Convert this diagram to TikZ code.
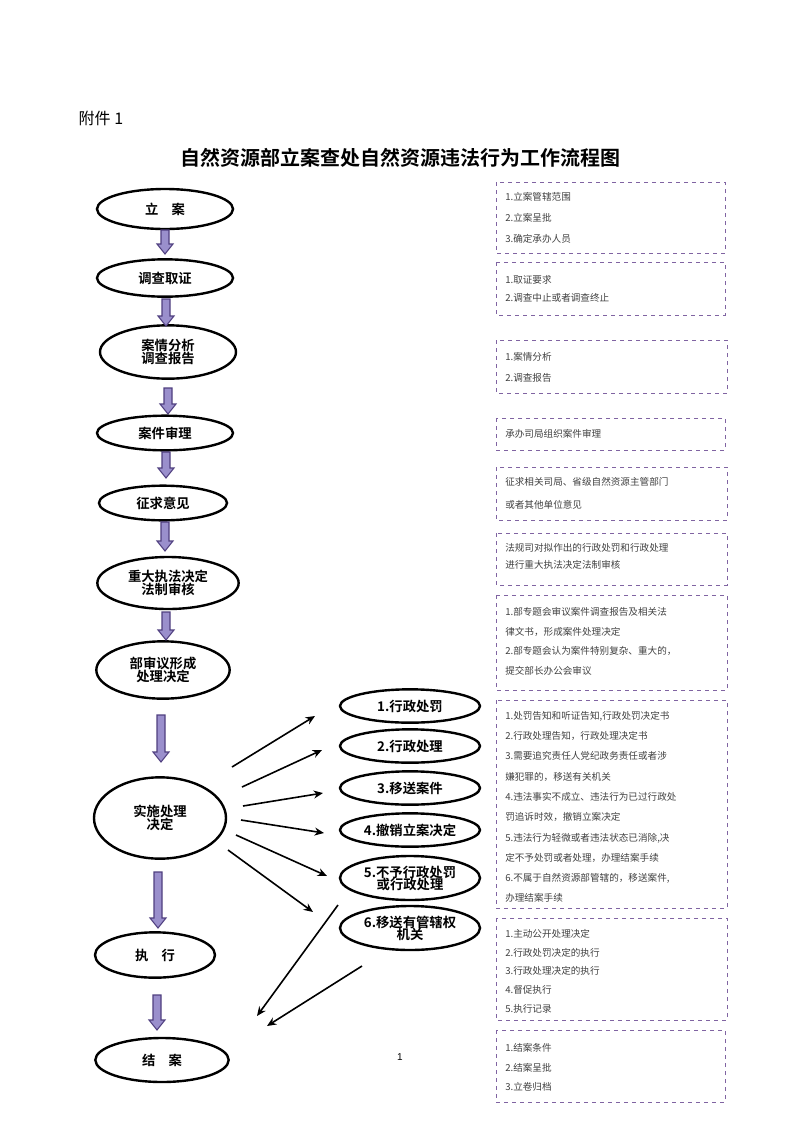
\documentclass[tikz,border=0pt]{standalone}
\usepackage{fontspec}
\setmainfont{Liberation Sans}
\newfontfamily\cjk{Noto Sans CJK SC}
\newfontfamily\cjkb{Noto Sans CJK SC Bold}
\usetikzlibrary{calc,arrows.meta}
\definecolor{boxc}{HTML}{8064A2}
\definecolor{arrf}{HTML}{9A8FCC}
\definecolor{arrd}{HTML}{4F3F7F}
\tikzset{
 el/.style={draw,line width=1.8pt,ellipse,inner sep=0pt,font=\cjkb\fontsize{10}{12}\selectfont,align=center},
 box/.style={draw=boxc,dashed,line width=0.7pt},
 bt/.style={anchor=north west,align=left,font=\cjk\fontsize{7.2}{14}\selectfont,text=black!75,inner sep=0pt},
 ar/.style={-{Stealth[length=7pt,width=6pt]},line width=1.2pt}
}
\usetikzlibrary{shapes.geometric}
\newcommand\barrow[3]{%
 \fill[arrf,draw=arrd,line width=0.8pt] (#1-4,#2)--(#1+4,#2)--(#1+4,#3-10)--(#1+8,#3-10)--(#1,#3)--(#1-8,#3-10)--(#1-4,#3-10)--cycle;}
\begin{document}
\begin{tikzpicture}[x=0.75pt,y=-0.75pt]
\useasboundingbox (0,0) rectangle (800,1132);
\node[anchor=west,font=\cjk\fontsize{12}{14}\selectfont] (fj) at (74,118) {附件 1};
\node[font=\cjkb\fontsize{15}{18}\selectfont] (title) at (400,158) {自然资源部立案查处自然资源违法行为工作流程图};
\node[font=\fontsize{7.5}{9}\selectfont] (pg) at (400,1057) {1};
% left ellipses
\node[el,minimum width=136\pgflinewidth/1.8*0.75/0.75,minimum width=102pt,minimum height=30pt] (a1) at (165,209) {立\quad 案};
\node[el,minimum width=102pt,minimum height=28pt] (a2) at (165,278) {调查取证};
\node[el,minimum width=102pt,minimum height=40pt] (a3) at (168,352) {案情分析\\[-2pt]调查报告};
\node[el,minimum width=102pt,minimum height=26pt] (a4) at (165,433) {案件审理};
\node[el,minimum width=96pt,minimum height=26pt] (a5) at (163,503) {征求意见};
\node[el,minimum width=106pt,minimum height=39pt] (a6) at (168,583) {重大执法决定\\[-2pt]法制审核};
\node[el,minimum width=100pt,minimum height=43pt] (a7) at (163,670) {部审议形成\\[-2pt]处理决定};
\node[el,minimum width=99pt,minimum height=61pt] (a8) at (160,818) {实施处理\\[-2pt]决定};
\node[el,minimum width=90pt,minimum height=34pt] (a9) at (155,955) {执\quad 行};
\node[el,minimum width=100pt,minimum height=33pt] (a10) at (162,1060) {结\quad 案};
% right ellipses
\node[el,minimum width=105pt,minimum height=25pt] (b1) at (410,706) {1.行政处罚};
\node[el,minimum width=105pt,minimum height=25pt] (b2) at (410,746) {2.行政处理};
\node[el,minimum width=105pt,minimum height=25pt] (b3) at (410,788) {3.移送案件};
\node[el,minimum width=105pt,minimum height=25pt] (b4) at (410,830) {4.撤销立案决定};
\node[el,minimum width=105pt,minimum height=33pt] (b5) at (410,878) {5.不予行政处罚\\[-3pt]或行政处理};
\node[el,minimum width=105pt,minimum height=33pt] (b6) at (410,928) {6.移送有管辖权\\[-3pt]机关};
% block arrows
\barrow{165}{230}{254}
\barrow{166}{299}{326}
\barrow{168}{388}{414}
\barrow{166}{452}{478}
\barrow{165}{522}{551}
\barrow{166}{612}{640}
\barrow{161}{715}{762}
\barrow{158}{872}{928}
\barrow{157}{995}{1030}
% black arrows
\coordinate (s1) at (232,767); \coordinate (s2) at (242,787); \coordinate (s3) at (243,806);
\coordinate (s4) at (241,820); \coordinate (s5) at (236,835); \coordinate (s6) at (228,850);
\draw[ar] (s1) -- (315,716);
\draw[ar] (s2) -- (322,750);
\draw[ar] (s3) -- (323,793);
\draw[ar] (s4) -- (324,833);
\draw[ar] (s5) -- (327,876);
\draw[ar] (s6) -- (313,912);
\coordinate (r1) at (338,905); \coordinate (r2) at (362,966);
\draw[ar] (r1) -- (257,1016);
\draw[ar] (r2) -- (267,1026);
% right boxes
\draw[box] (496,182) rectangle (725,253);
\node[bt,font=\cjk\fontsize{7.2}{15.8}\selectfont] (t1) at (505,192) {1.立案管辖范围\\2.立案呈批\\3.确定承办人员};
\draw[box] (496,262) rectangle (725,315);
\node[bt] (t2) at (505,275) {1.取证要求\\2.调查中止或者调查终止};
\draw[box] (496,340) rectangle (727,393);
\node[bt,font=\cjk\fontsize{7.2}{15.6}\selectfont] (t3) at (505,352) {1.案情分析\\2.调查报告};
\draw[box] (496,418) rectangle (725,450);
\node[bt] (t4) at (505,429) {承办司局组织案件审理};
\draw[box] (496,467) rectangle (727,520);
\node[bt,font=\cjk\fontsize{7.2}{17}\selectfont] (t5) at (505,477) {征求相关司局、省级自然资源主管部门\\或者其他单位意见};
\draw[box] (496,533) rectangle (727,585);
\node[bt,font=\cjk\fontsize{7.2}{13}\selectfont] (t6) at (505,543) {法规司对拟作出的行政处罚和行政处理\\进行重大执法决定法制审核};
\draw[box] (496,595) rectangle (727,690);
\node[bt,font=\cjk\fontsize{7.2}{14.8}\selectfont] (t7) at (505,607) {1.部专题会审议案件调查报告及相关法\\律文书，形成案件处理决定\\2.部专题会认为案件特别复杂、重大的，\\提交部长办公会审议};
\draw[box] (496,700) rectangle (727,908);
\node[bt,font=\cjk\fontsize{7.2}{15.2}\selectfont] (t8) at (505,711) {1.处罚告知和听证告知,行政处罚决定书\\2.行政处理告知，行政处理决定书\\3.需要追究责任人党纪政务责任或者涉\\嫌犯罪的，移送有关机关\\4.违法事实不成立、违法行为已过行政处\\罚追诉时效，撤销立案决定\\5.违法行为轻微或者违法状态已消除,决\\定不予处罚或者处理，办理结案手续\\6.不属于自然资源部管辖的，移送案件,\\办理结案手续};
\draw[box] (496,918) rectangle (727,1020);
\node[bt] (t9) at (505,929) {1.主动公开处理决定\\2.行政处罚决定的执行\\3.行政处理决定的执行\\4.督促执行\\5.执行记录};
\draw[box] (496,1030) rectangle (725,1102);
\node[bt,font=\cjk\fontsize{7.2}{14.8}\selectfont] (t10) at (505,1043) {1.结案条件\\2.结案呈批\\3.立卷归档};
\end{tikzpicture}
\end{document}
